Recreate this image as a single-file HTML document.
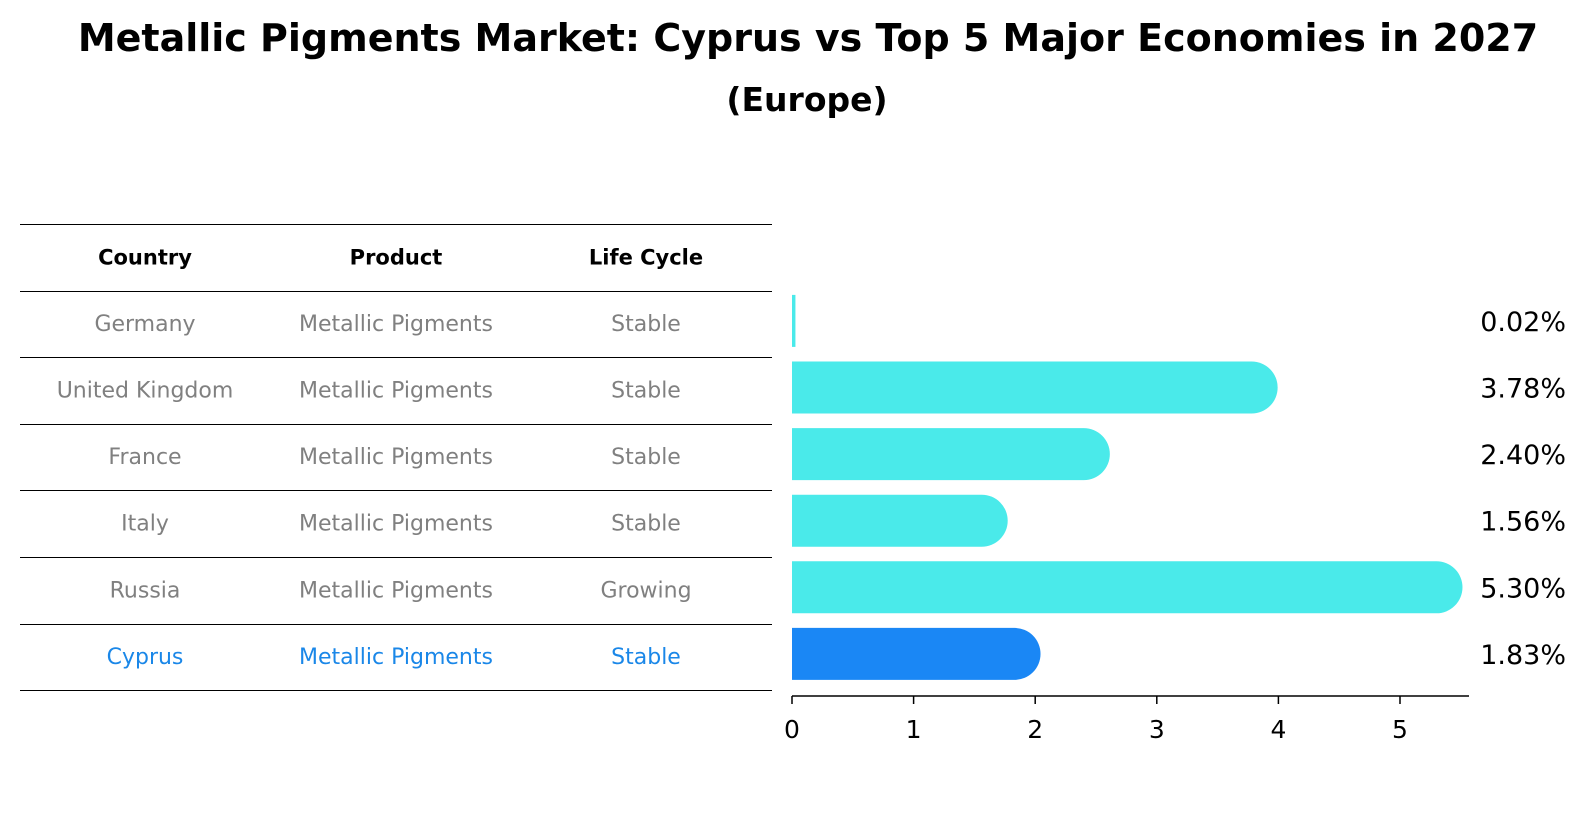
<!DOCTYPE html>
<html><head><meta charset="utf-8">
<style>
body{margin:0;width:1586px;height:823px;background:#fff;font-family:"Liberation Sans","DejaVu Sans",sans-serif;overflow:hidden;position:relative}
.t{position:absolute;white-space:nowrap}
</style></head><body>
<div class="t" style="left:0;width:1616px;text-align:center;top:16px;font:bold 38px 'DejaVu Sans',sans-serif">Metallic Pigments Market: Cyprus vs Top 5 Major Economies in 2027</div>
<div class="t" style="left:0;width:1614px;text-align:center;top:80px;font:bold 33px 'DejaVu Sans',sans-serif">(Europe)</div>
<svg id="c" width="1586" height="823" style="position:absolute;left:0;top:0"></svg>
<script>
const countries=["Germany","United Kingdom","France","Italy","Russia","Cyprus"];
const products=["Metallic Pigments","Metallic Pigments","Metallic Pigments","Metallic Pigments","Metallic Pigments","Metallic Pigments"];
const lifecycle=["Stable","Stable","Stable","Stable","Growing","Stable"];
const values=[0.02,3.78,2.40,1.56,5.30,1.83];
const ticks=[0,1,2,3,4,5];
const svg=document.getElementById('c');const NS='http://www.w3.org/2000/svg';
function mk(t,a,p){const e=document.createElementNS(NS,t);for(const k in a)e.setAttribute(k,a[k]);(p||svg).appendChild(e);return e;}
const x0=792,ppu=121.6;const X=v=>x0+v*ppu;
const rowTop=224,rowH=66.6,tableL=20,tableR=772;
const Y=i=>rowTop+rowH*(i+1)+rowH/2;
const cols=[145,396,646];
for(let i=0;i<=countries.length+1;i++){
 const yy=Math.round(rowTop+i*rowH)+0.5;
 const l=mk('line',{x1:tableL,x2:tableR,y1:yy,y2:yy,stroke:'#000','stroke-width':1});
 
 
}
["Country","Product","Life Cycle"].forEach((h,j)=>{
 const t=mk('text',{x:cols[j],y:rowTop+rowH/2+7,'text-anchor':'middle','font-size':21,'font-weight':'bold','font-family':'DejaVu Sans,sans-serif'});t.textContent=h;
 
 
});
countries.forEach((c,i)=>{
 const col=i===countries.length-1?'#1a87e8':'#808080';
 [c,products[i],lifecycle[i]].forEach((v,j)=>{
  const t=mk('text',{x:cols[j],y:Y(i)+7,'text-anchor':'middle','font-size':22,fill:col,'font-family':'DejaVu Sans,sans-serif'});t.textContent=v;
  
  
 });
 const h=52,r=h/2,yc=Y(i)-3,xe=X(values[i]);
 const fill=i===countries.length-1?'#1a87f5':'#4aeaea';
 let b;
 if(values[i]<0.1){b=mk('rect',{x:x0,y:yc-r,width:Math.max(3,xe-x0+1),height:h,fill:fill});}
 else b=mk('path',{d:`M${x0},${yc-r}H${xe}A${r},${r} 0 0 1 ${xe},${yc+r}H${x0}Z`,fill:fill});
 
 
 const t=mk('text',{x:1566,y:yc+10,'text-anchor':'end','font-size':27,'font-family':'DejaVu Sans,sans-serif'});t.textContent=values[i].toFixed(2)+'%';
 
 
});
const ax=mk('line',{x1:x0,x2:1469,y1:696,y2:696,stroke:'#000','stroke-width':1.5});


ticks.forEach(v=>{
 const tl=mk('line',{x1:X(v),x2:X(v),y1:696,y2:704,stroke:'#000','stroke-width':1.5});
 
 
 const t=mk('text',{x:X(v),y:738,'text-anchor':'middle','font-size':25,'font-family':'DejaVu Sans,sans-serif'});t.textContent=v;
 
 
});
</script>
</body></html>
